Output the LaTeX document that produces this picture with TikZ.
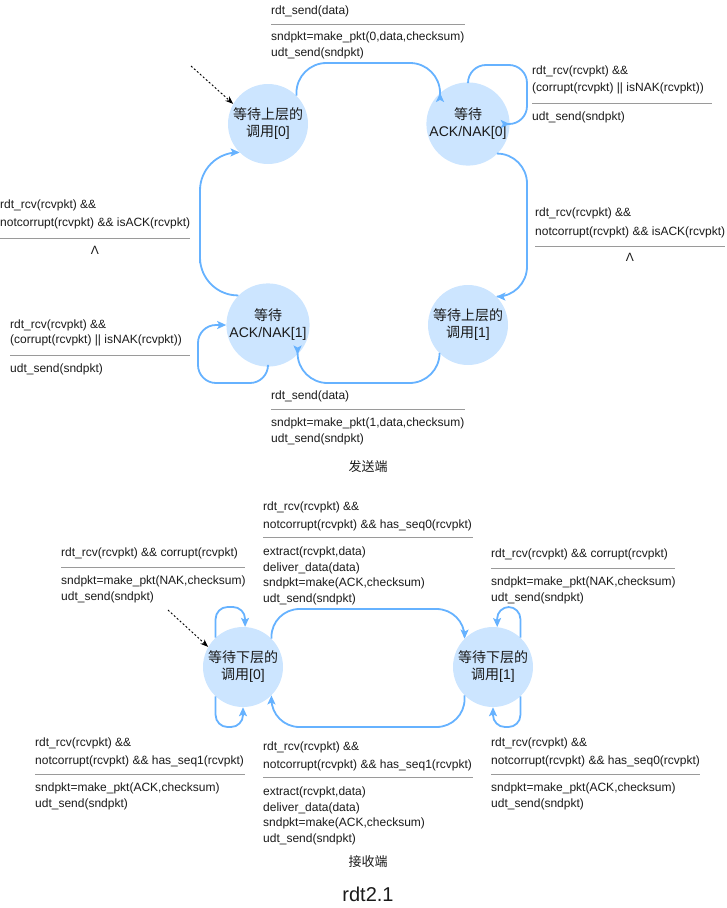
\documentclass[tikz,border=0pt]{standalone}
\usepackage{fontspec}
\setmainfont{Liberation Sans}
\newfontfamily\cjk{Noto Sans CJK SC}
\usetikzlibrary{arrows.meta}
\definecolor{stfill}{HTML}{CCE5FF}
\definecolor{edgeblue}{HTML}{66B2FF}
\definecolor{sepgray}{HTML}{9A9A9A}
\definecolor{txt}{HTML}{1A1A1A}
\begin{document}
\begin{tikzpicture}[x=1pt,y=-1pt,
  state/.style={circle, fill=stfill, draw=none, minimum size=80pt, inner sep=0pt, align=center, font=\fontsize{14}{17}\selectfont, text=txt},
  lbl/.style={anchor=west, inner sep=0pt, text height=9pt, text depth=3pt, font=\fontsize{12}{14}\selectfont, text=txt},
  sep/.style={draw=sepgray, line width=0.8pt},
  edge/.style={draw=edgeblue, line width=1.8pt, -{Stealth[length=9pt,width=8pt,inset=2pt]}},
  init/.style={draw=black, line width=0.9pt, dash pattern=on 2pt off 2pt, -{Stealth[length=8pt,width=6pt]}},
  caption/.style={inner sep=0pt, font=\cjk\fontsize{13}{15}\selectfont, text=txt}]
\useasboundingbox (0,0) rectangle (726,908);

% ---------------- sender states ----------------
\node[state] (s0) at (268,124) {{\cjk 等待上层的}\\{\cjk 调用}[0]};
\node[state] (a0) at (468,124) {{\cjk 等待}\\ACK/NAK[0]};
\node[state] (b1) at (468,325) {{\cjk 等待上层的}\\{\cjk 调用}[1]};
\node[state] (a1) at (268,325) {{\cjk 等待}\\ACK/NAK[1]};

% ---------------- receiver states ----------------
\node[state] (r0) at (243,667) {{\cjk 等待下层的}\\{\cjk 调用}[0]};
\node[state] (r1) at (493,667) {{\cjk 等待下层的}\\{\cjk 调用}[1]};

% ---------------- sender edges ----------------
\draw[edge, rounded corners=30] (s0.45) |- (368,63) -| (a0.132);
\draw[edge, rounded corners=18] (a0.north) |- (527,65) |- (a0.east);
\draw[edge, rounded corners=30] (a0.-45) -| (527,220) |- (b1.45);
\draw[edge, rounded corners=30] (b1.-135) |- (368,383) -| (a1.-45);
\draw[edge, rounded corners=18] (a1.south) |- (198,383) |- (a1.west);
\draw[edge, rounded corners=38] (a1.135) -| (200,225) |- (s0.-135);

% ---------------- receiver edges ----------------
\draw[edge, rounded corners=28] (r0.45) |- (368,609) -| (r1.135);
\draw[edge, rounded corners=28] (r1.-135) |- (368,727) -| (r0.-45);
\draw[edge, rounded corners=12] (r0.133) |- (245,607) -- (r0.87);
\draw[edge, rounded corners=12] (r0.-133) |- (243,727) -- (r0.south);
\draw[edge, rounded corners=12] (r1.47) |- (497,607) -- (r1.84);
\draw[edge, rounded corners=12] (r1.-47) |- (493,727) -- (r1.south);

% ---------------- initial arrows ----------------
\coordinate (i0) at (191,66);
\draw[init] (i0) -- (s0.150);
\coordinate (i1) at (168,610);
\draw[init] (i1) -- (r0.150);

% ---------------- sender labels ----------------
\node[lbl] (st1) at (271,11.5) {rdt\_send(data)};
\draw[sep] (271,24.3) -- (465,24.3);
\node[lbl] (st2) at (271,37.5) {sndpkt=make\_pkt(0,data,checksum)};
\node[lbl] (st3) at (271,53.5) {udt\_send(sndpkt)};

\node[lbl] (sr1) at (532,71) {rdt\_rcv(rcvpkt) \&\&};
\node[lbl] (sr2) at (532,88) {(corrupt(rcvpkt) || isNAK(rcvpkt))};
\draw[sep] (532,103) -- (712,103);
\node[lbl] (sr3) at (532,117) {udt\_send(sndpkt)};

\node[lbl] (sl1) at (0,205) {rdt\_rcv(rcvpkt) \&\&};
\node[lbl] (sl2) at (0,223) {notcorrupt(rcvpkt) \&\& isACK(rcvpkt)};
\draw[sep] (0,238) -- (190,238);
\node[lbl, anchor=center] (sl3) at (95,251) {Λ};

\node[lbl] (sm1) at (535,213) {rdt\_rcv(rcvpkt) \&\&};
\node[lbl] (sm2) at (535,232) {notcorrupt(rcvpkt) \&\& isACK(rcvpkt)};
\draw[sep] (535,246) -- (725,246);
\node[lbl, anchor=center] (sm3) at (630,258) {Λ};

\node[lbl] (sq1) at (10,325) {rdt\_rcv(rcvpkt) \&\&};
\node[lbl] (sq2) at (10,340) {(corrupt(rcvpkt) || isNAK(rcvpkt))};
\draw[sep] (10,355) -- (190,355);
\node[lbl] (sq3) at (10,369) {udt\_send(sndpkt)};

\node[lbl] (sb1) at (271,396) {rdt\_send(data)};
\draw[sep] (271,409) -- (465,409);
\node[lbl] (sb2) at (271,423) {sndpkt=make\_pkt(1,data,checksum)};
\node[lbl] (sb3) at (271,439) {udt\_send(sndpkt)};

\node[caption] (cap1) at (368,467) {发送端};

% ---------------- receiver labels ----------------
\node[lbl] (rt1) at (263,507) {rdt\_rcv(rcvpkt) \&\&};
\node[lbl] (rt2) at (263,525) {notcorrupt(rcvpkt) \&\& has\_seq0(rcvpkt)};
\draw[sep] (263,537) -- (473,537);
\node[lbl] (rt3) at (263,552) {extract(rcvpkt,data)};
\node[lbl] (rt4) at (263,568) {deliver\_data(data)};
\node[lbl] (rt5) at (263,583) {sndpkt=make(ACK,checksum)};
\node[lbl] (rt6) at (263,599) {udt\_send(sndpkt)};

\node[lbl] (rl1) at (61,553) {rdt\_rcv(rcvpkt) \&\& corrupt(rcvpkt)};
\draw[sep] (61,567) -- (245,567);
\node[lbl] (rl2) at (61,581) {sndpkt=make\_pkt(NAK,checksum)};
\node[lbl] (rl3) at (61,597) {udt\_send(sndpkt)};

\node[lbl] (rr1) at (491,554) {rdt\_rcv(rcvpkt) \&\& corrupt(rcvpkt)};
\draw[sep] (491,568) -- (675,568);
\node[lbl] (rr2) at (491,582) {sndpkt=make\_pkt(NAK,checksum)};
\node[lbl] (rr3) at (491,598) {udt\_send(sndpkt)};

\node[lbl] (rbl1) at (35,743) {rdt\_rcv(rcvpkt) \&\&};
\node[lbl] (rbl2) at (35,761) {notcorrupt(rcvpkt) \&\& has\_seq1(rcvpkt)};
\draw[sep] (35,774) -- (245,774);
\node[lbl] (rbl3) at (35,788) {sndpkt=make\_pkt(ACK,checksum)};
\node[lbl] (rbl4) at (35,804) {udt\_send(sndpkt)};

\node[lbl] (rbm1) at (263,747) {rdt\_rcv(rcvpkt) \&\&};
\node[lbl] (rbm2) at (263,765) {notcorrupt(rcvpkt) \&\& has\_seq1(rcvpkt)};
\draw[sep] (263,777) -- (473,777);
\node[lbl] (rbm3) at (263,792) {extract(rcvpkt,data)};
\node[lbl] (rbm4) at (263,808) {deliver\_data(data)};
\node[lbl] (rbm5) at (263,823) {sndpkt=make(ACK,checksum)};
\node[lbl] (rbm6) at (263,839) {udt\_send(sndpkt)};

\node[lbl] (rbr1) at (491,743) {rdt\_rcv(rcvpkt) \&\&};
\node[lbl] (rbr2) at (491,761) {notcorrupt(rcvpkt) \&\& has\_seq0(rcvpkt)};
\draw[sep] (491,774) -- (700,774);
\node[lbl] (rbr3) at (491,788) {sndpkt=make\_pkt(ACK,checksum)};
\node[lbl] (rbr4) at (491,804) {udt\_send(sndpkt)};

\node[caption] (cap2) at (368,862) {接收端};
\node[inner sep=0pt, font=\fontsize{20}{24}\selectfont, text=txt] (title) at (368,894) {rdt2.1};
\end{tikzpicture}
\end{document}
